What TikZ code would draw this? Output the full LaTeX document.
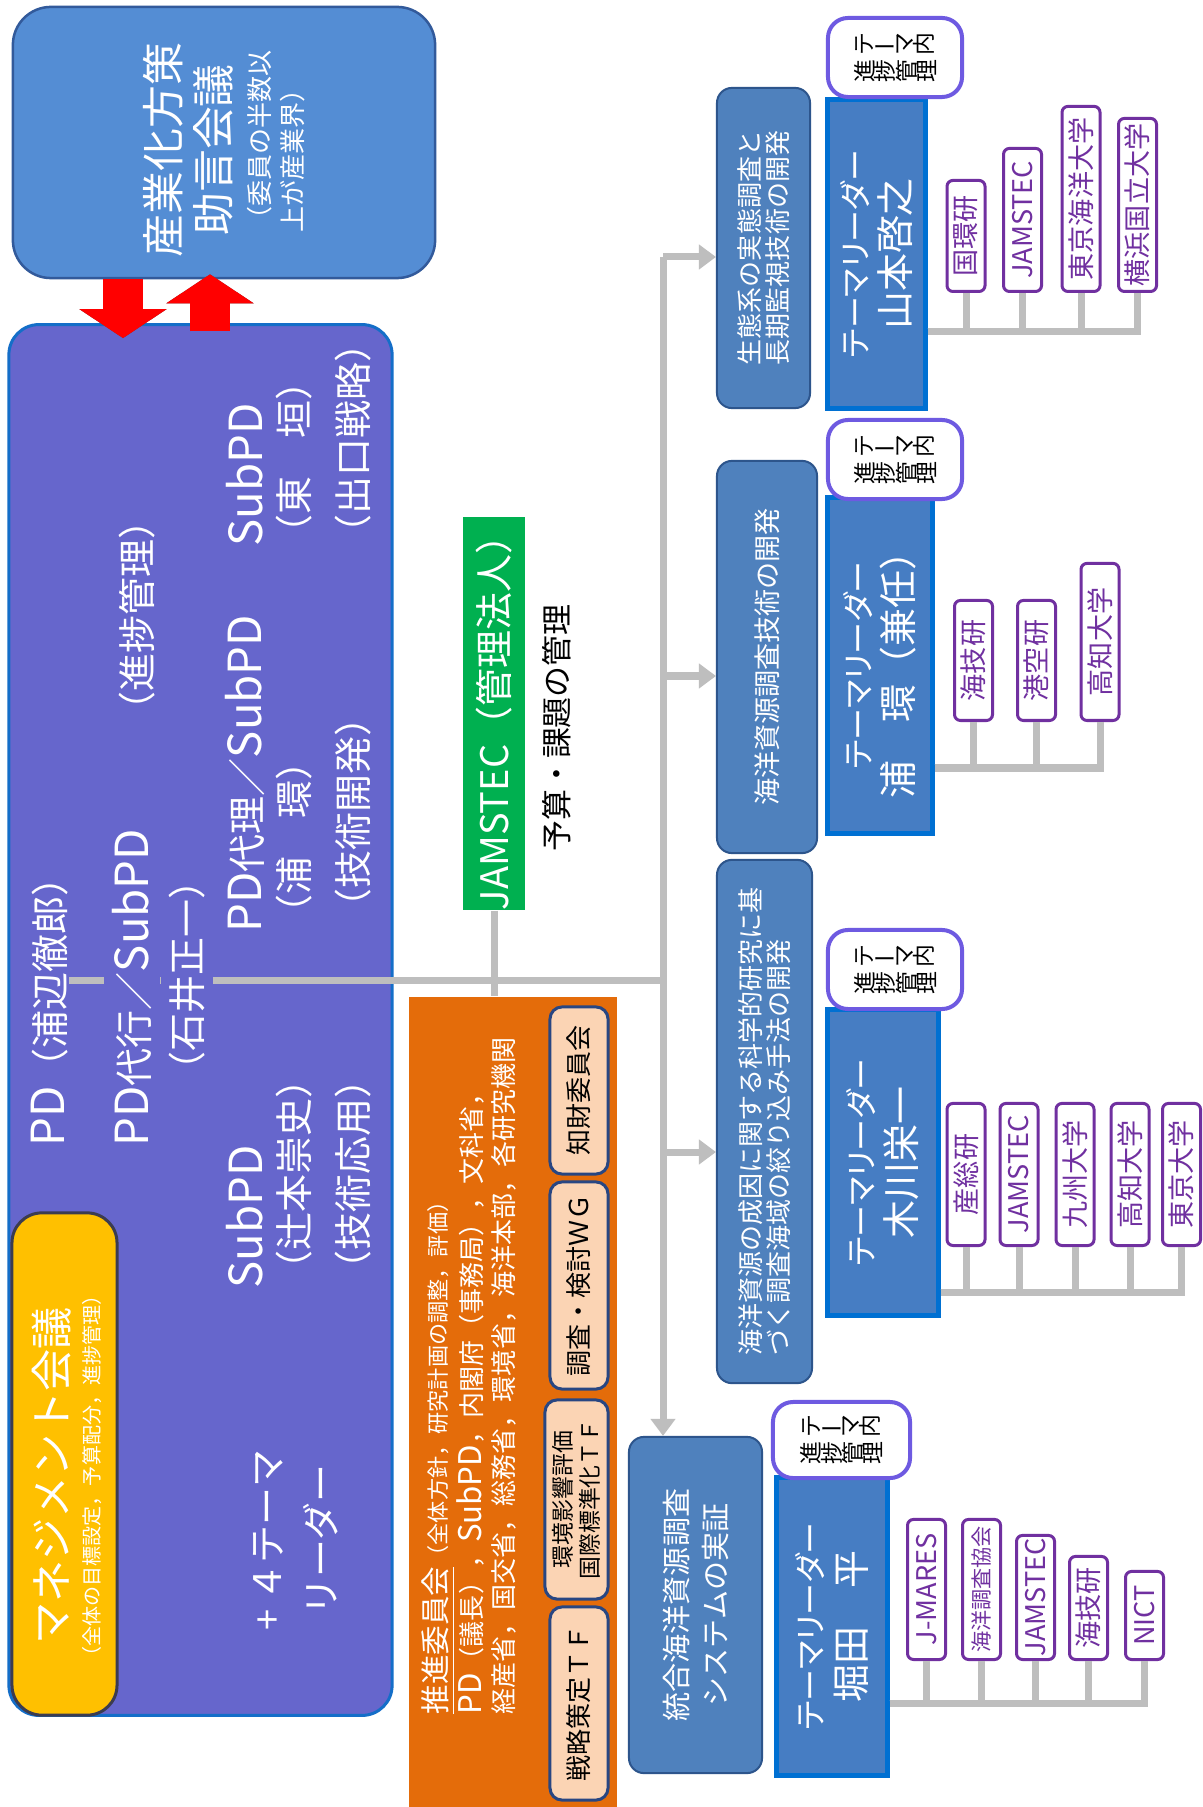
\documentclass[tikz,border=0pt]{standalone}
\usepackage{graphicx}
\usepackage{fontspec}
\setmainfont{Noto Sans CJK JP}
\newfontfamily\jpp{Noto Sans CJK JP}[RawFeature=+palt]
\usetikzlibrary{arrows.meta}

\definecolor{advfill}{RGB}{84,141,212}
\definecolor{advedge}{RGB}{50,90,155}
\definecolor{pdfill}{RGB}{102,102,204}
\definecolor{pdedge}{RGB}{20,110,200}
\definecolor{mgmtfill}{RGB}{255,192,0}
\definecolor{mgmtedge}{RGB}{60,60,80}
\definecolor{orgfill}{RGB}{228,108,10}
\definecolor{subfill}{RGB}{251,212,180}
\definecolor{subedge}{RGB}{40,70,130}
\definecolor{jamfill}{RGB}{0,176,80}
\definecolor{themefill}{RGB}{79,129,189}
\definecolor{themeedge}{RGB}{45,85,140}
\definecolor{leadfill}{RGB}{70,125,195}
\definecolor{leadedge}{RGB}{0,112,210}
\definecolor{progedge}{RGB}{110,90,225}
\definecolor{memc}{RGB}{112,48,160}
\definecolor{lgray}{RGB}{190,190,190}
\definecolor{redarrow}{RGB}{255,0,0}
\definecolor{redshadow}{RGB}{90,70,80}

\newcommand\fs[2]{\fontsize{#1}{#2}\selectfont}
\newcommand\la[1]{\scalebox{1.2}{#1}}
\newcommand\rr[1]{\rotatebox{90}{#1}}

\begin{document}
\begin{tikzpicture}[x=0.01cm, y=-0.01cm,
    rbox/.style={rotate=90, inner sep=0pt, align=center},
    wtxt/.style={rbox, anchor=west, text=white, font=\fs{10.8}{14}},
    advbox/.style={rbox, draw=advedge, line width=0.025cm, fill=advfill, rounded corners=0.38cm},
    mainbox/.style={rbox, draw=pdedge, line width=0.03cm, fill=pdfill, rounded corners=0.3cm},
    mgmtbox/.style={rbox, draw=mgmtedge, line width=0.03cm, fill=mgmtfill, rounded corners=0.3cm},
    orgbox/.style={rbox, fill=orgfill},
    subbox/.style={rbox, draw=subedge, line width=0.03cm, fill=subfill, rounded corners=0.12cm, font=\fs{7.4}{8.5}, minimum height=0.58cm},
    jambox/.style={rbox, fill=jamfill, text=white, font=\fs{10.8}{12}},
    themebox/.style={rbox, draw=themeedge, line width=0.02cm, fill=themefill, rounded corners=0.15cm, text=white, font=\fs{7.4}{8}},
    leadbox/.style={rbox, draw=leadedge, line width=0.05cm, fill=leadfill, text=white, font=\fs{10.8}{12}},
    progbox/.style={draw=progedge, line width=0.04cm, fill=white, rounded corners=0.2cm, inner sep=0pt, align=center, font=\fs{6.5}{7.7}, minimum width=1.34cm, minimum height=0.79cm},
    membox/.style={rbox, anchor=west, draw=memc, line width=0.03cm, fill=white, rounded corners=0.06cm, text=memc, font=\fs{7.7}{9}, minimum height=0.38cm},
    conn/.style={draw=lgray, line width=0.07cm},
    arr/.style={conn, -{Triangle[width=0.24cm,length=0.17cm]}},
    redarr/.style={draw=redarrow, line width=0.4cm, -{Triangle[width=0.86cm,length=0.29cm]}},
    redshade/.style={redarr, draw=redshadow, xshift=-0.035cm, yshift=-0.02cm}]
    \useasboundingbox (0,0) rectangle (1202,1807);
    \fill[white] (0,0) rectangle (1202,1807);

    % 産業化方策助言会議
    \node[advbox, minimum width=2.71cm, minimum height=4.22cm] (adv) at (224,142.5) {};
    \node[rbox, text=white, font=\fs{12.2}{14.2}] (advt) at (188,150) {産業化方策\\助言会議};
    \node[rbox, anchor=west, text=white, align=left, font=\fs{7.4}{9.4}] (advs) at (276,233) {（委員の半数以\\上が産業界）};

    % PD / SubPD
    \node[mainbox, minimum width=13.9cm, minimum height=3.83cm] (main) at (200.5,1020) {};
    \coordinate (ra) at (123,0); \coordinate (rb) at (210,0);
    \draw[redshade, shorten >=-0.15cm] (ra |- adv.west) -- (ra |- main.east);
    \draw[redshade, shorten <=-0.08cm, shorten >=-0.05cm] (rb |- main.east) -- (rb |- adv.west);
    \draw[redarr, shorten >=-0.15cm] (ra |- adv.west) -- (ra |- main.east);
    \draw[redarr, shorten <=-0.08cm, shorten >=-0.05cm] (rb |- main.east) -- (rb |- adv.west);

    \node[mgmtbox, minimum width=5.02cm, minimum height=1.05cm] (mgmt) at (64.5,1464) {};
    \node[rbox, text=white, font=\fs{12}{14}] (mgmtt) at (52,1476) {マネジメント会議};
    \node[rbox, text=white, font=\fs{5.7}{7}] (mgmts) at (92,1476) {（全体の目標設定，予算配分，進捗管理）};

    \node[wtxt] (pd) at (50,1147) {\la{PD}（浦辺徹郎）};
    \coordinate (tr) at (663,257);
    \coordinate (jpd) at (663,980);
    \draw[conn] (pd.south |- jpd) -- (jpd);
    \node[wtxt, fill=pdfill, inner sep=0.08cm] (pdact) at (132,1155) {\la{PD}代行／\la{SubPD}};
    \node[wtxt, fill=pdfill, inner sep=0.08cm] (ishii) at (187,1098) {（石井正一）};
    \node[wtxt] (prog) at (137,730) {（進捗管理）};
    \node[wtxt] (subpd1) at (245,1289) {\la{SubPD}};
    \node[wtxt] (pdrep) at (245,933) {\la{PD}代理／\la{SubPD}};
    \node[wtxt] (subpd2) at (245,547) {\la{SubPD}};
    \node[wtxt] (tsuji) at (294,1289) {（辻本崇史）};
    \node[wtxt] (ura) at (294,933) {（浦　環）};
    \node[wtxt] (higa) at (294,553) {（東　垣）};
    \node[wtxt] (ouyo) at (353,1289) {（技術応用）};
    \node[wtxt] (kaih) at (353,927) {（技術開発）};
    \node[wtxt] (degu) at (353,553) {（出口戦略）};
    \node[rbox, text=white, font=\fs{10.8}{15.4}] (plus4) at (296,1540) {+ ４テーマ\\リーダー};

    % JAMSTEC
    \node[jambox, minimum width=3.89cm, minimum height=0.62cm] (jam) at (494,713.5) {JAMSTEC（管理法人）};
    \node[rbox, font=\fs{8.8}{10}] (budget) at (557,728) {予算・課題の管理};

    % 推進委員会
    \node[orgbox, minimum width=8.1cm, minimum height=2.08cm] (org) at (513,1402) {};
    \draw[conn] (jam.west) -- (jam.west |- org.east);
    \node[wtxt, anchor=base west, font=\fs{8.4}{10}] (orgt) at (446,1715) {\underline{推進委員会}};
    \node[wtxt, anchor=base west, font=\fs{6.3}{8}] (orgs) at (446,1568) {（全体方針，研究計画の調整，評価）};
    \node[wtxt, font=\fs{7.4}{9}] (orgm) at (470,1715) {\la{PD}（議長），\la{SubPD}，内閣府（事務局），文科省，};
    \node[wtxt, font=\fs{7.4}{9}] (orgn) at (504,1715) {経産省，国交省，総務省，環境省，海洋本部，各研究機関};
    \node[subbox, minimum width=1.93cm] (tf1) at (579,1703.5) {戦略策定ＴＦ};
    \node[subbox, minimum width=1.99cm, minimum height=0.63cm, font=\fs{6.5}{7.7}] (tf2) at (576.5,1499.5) {環境影響評価\\国際標準化ＴＦ};
    \node[subbox, minimum width=2.07cm] (wg) at (579,1285.5) {調査・検討ＷＧ};
    \node[subbox, minimum width=1.67cm] (ip) at (579,1090.5) {知財委員会};

    % テーマ
    \node[themebox, minimum width=3.2cm, minimum height=0.93cm, align=left] (t1) at (763.5,248) {生態系の実態調査と\\長期監視技術の開発};
    \node[themebox, minimum width=3.92cm, minimum height=1cm, font=\fs{7.7}{9}] (t2) at (767,657) {海洋資源調査技術の開発};
    \node[themebox, minimum width=5.23cm, minimum height=0.95cm, align=left] (t3) at (764.5,1121.5) {海洋資源の成因に関する科学的研究に基\\づく調査海域の絞り込み手法の開発};
    \node[themebox, minimum width=3.36cm, minimum height=1.33cm, font=\fs{8.25}{11.1}] (t4) at (695.5,1605) {統合海洋資源調査\\システムの実証};

    \coordinate (j2) at (663,676);
    \coordinate (j3) at (663,1152);
    \draw[arr] (tr) -- (tr |- t4.east);
    \draw[arr] (tr) -- (tr -| t1.north);
    \draw[arr] (j2) -- (j2 -| t2.north);
    \draw[arr] (j3) -- (j3 -| t3.north);

    % テーマリーダー
    \node[leadbox, minimum width=3.08cm, minimum height=0.97cm] (l1) at (876.5,254) {{\jpp\fs{9.1}{12}テーマリーダー}\\山本啓之};
    \node[leadbox, minimum width=3.35cm, minimum height=1.04cm] (l2) at (880,665.5) {{\jpp\fs{9.1}{12}テーマリーダー}\\浦　環（兼任）};
    \node[leadbox, minimum width=3.05cm, minimum height=1.1cm] (l3) at (883,1162.5) {{\jpp\fs{9.1}{12}テーマリーダー}\\木川栄一};
    \node[leadbox, minimum width=2.97cm, minimum height=1.1cm] (l4) at (832,1626.5) {{\jpp\fs{9.1}{12}テーマリーダー}\\堀田　平};

    \node[progbox] (p1) at (895,57.5) {\rr{テ}ー\rr{マ}\rr{内}\\\rr{進}\rr{捗}\rr{管}\rr{理}};
    \node[progbox] (p2) at (895,459.5) {\rr{テ}ー\rr{マ}\rr{内}\\\rr{進}\rr{捗}\rr{管}\rr{理}};
    \node[progbox] (p3) at (895,969.5) {\rr{テ}ー\rr{マ}\rr{内}\\\rr{進}\rr{捗}\rr{管}\rr{理}};
    \node[progbox, minimum width=1.37cm, minimum height=0.76cm] (p4) at (841.5,1440) {\rr{テ}ー\rr{マ}\rr{内}\\\rr{進}\rr{捗}\rr{管}\rr{理}};

    % 参加機関
    \coordinate (b1) at (0,332);
    \node[membox, minimum width=1.11cm] (m11) at (966,293) {国環研};
    \node[membox, minimum width=1.43cm] (m12) at (1022.5,293) {JAMSTEC};
    \node[membox, minimum width=1.85cm] (m13) at (1081,293) {東京海洋大学};
    \node[membox, minimum width=1.73cm] (m14) at (1137.5,293) {横浜国立大学};
    \foreach \m in {m11,m12,m13,m14} \draw[conn] (l1.south |- b1) -| (\m.west);

    \coordinate (b2) at (0,768);
    \node[membox, minimum width=1.2cm] (m21) at (973.5,722) {海技研};
    \node[membox, minimum width=1.2cm] (m22) at (1036.5,722) {港空研};
    \node[membox, minimum width=1.57cm] (m23) at (1100,722) {高知大学};
    \foreach \m in {m21,m22,m23} \draw[conn] (l2.south |- b2) -| (\m.west);

    \coordinate (b3) at (0,1292);
    \node[membox, minimum width=1.42cm] (m31) at (966,1247) {産総研};
    \node[membox, minimum width=1.42cm] (m32) at (1019,1247) {JAMSTEC};
    \node[membox, minimum width=1.42cm] (m33) at (1075,1247) {九州大学};
    \node[membox, minimum width=1.42cm] (m34) at (1130,1247) {高知大学};
    \node[membox, minimum width=1.42cm] (m35) at (1181.5,1247) {東京大学};
    \foreach \m in {m31,m32,m33,m34,m35} \draw[conn] (l3.south |- b3) -| (\m.west);

    \coordinate (b4) at (0,1703);
    \node[membox, minimum width=1.4cm] (m41) at (926.5,1661) {J-MARES};
    \node[membox, minimum width=1.4cm, font=\fs{6}{7}] (m42) at (981.5,1661) {海洋調査協会};
    \node[membox, minimum width=1.24cm] (m43) at (1035.5,1661) {JAMSTEC};
    \node[membox, minimum width=1.03cm] (m44) at (1088.5,1661) {海技研};
    \node[membox, minimum width=0.88cm] (m45) at (1144.5,1661) {NICT};
    \foreach \m in {m41,m42,m43,m44,m45} \draw[conn] (l4.south |- b4) -| (\m.west);
\end{tikzpicture}
\end{document}
